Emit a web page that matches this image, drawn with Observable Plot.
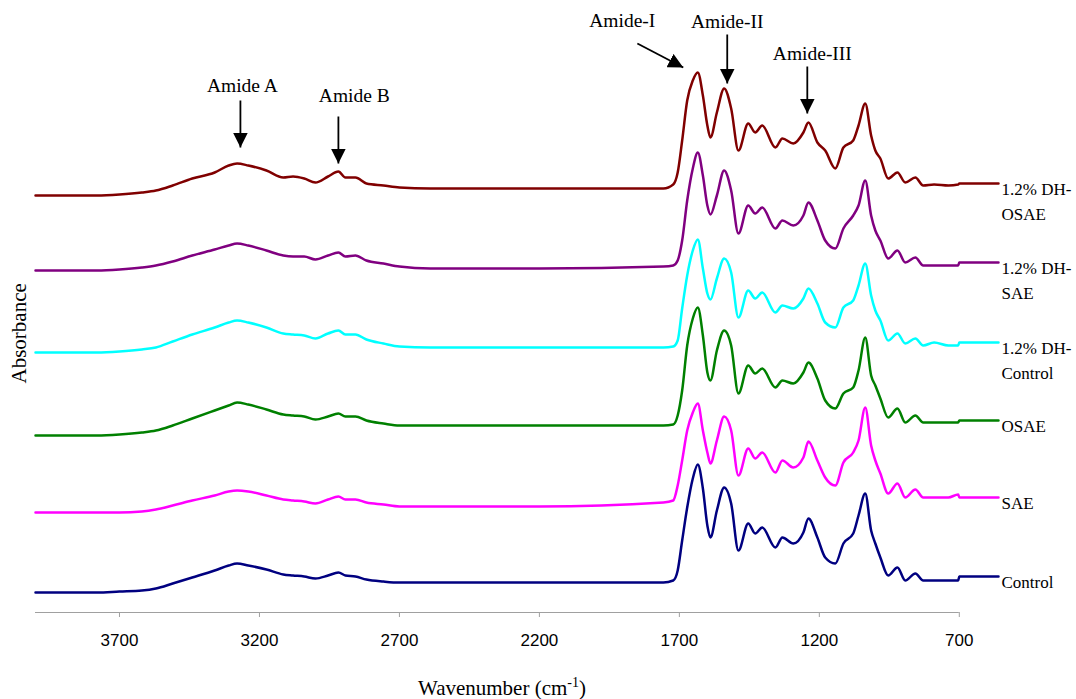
<!DOCTYPE html>
<html><head><meta charset="utf-8">
<script src="https://cdn.jsdelivr.net/npm/d3@7"></script>
<script src="https://cdn.jsdelivr.net/npm/@observablehq/plot@0.6"></script>
<style>html,body{margin:0;padding:0;background:#fff}#chart svg{display:block}</style>
</head><body><div id="chart"></div>
<script>
// Wavenumber sample points (cm-1)
const wavenumber = [4000, 3780, 3700, 3620, 3570, 3510, 3440, 3360, 3310, 3280, 3240, 3175, 3115, 3080, 3040, 3000, 2955, 2918, 2893, 2857, 2818, 2757, 2700, 2590, 2200,
  1757, 1722, 1706, 1690, 1672, 1652, 1634, 1616, 1600, 1589, 1566, 1540, 1515, 1489, 1454, 1429, 1404, 1357, 1332, 1293, 1257, 1239, 1207, 1179, 1143, 1114, 1079, 1060, 1036, 1015, 1000, 982, 954, 921, 893, 857, 829, 790, 739, 704, 700, 560];

// Offset absorbance (a.u.) for each spectrum
const absDHOSAE = [4.17, 4.17, 4.18, 4.20, 4.22, 4.27, 4.34, 4.40, 4.47, 4.49, 4.47, 4.42, 4.35, 4.36, 4.34, 4.30, 4.36, 4.41, 4.35, 4.35, 4.29, 4.27, 4.25, 4.24, 4.24,
  4.24, 4.28, 4.40, 4.72, 5.12, 5.32, 5.40, 5.17, 4.87, 4.75, 5.00, 5.24, 5.04, 4.62, 4.89, 4.80, 4.87, 4.65, 4.74, 4.69, 4.80, 4.90, 4.70, 4.62, 4.44, 4.65, 4.72, 4.87, 5.09, 4.77, 4.62, 4.54, 4.34, 4.40, 4.30, 4.35, 4.27, 4.28, 4.27, 4.28, 4.29, 4.29];
const absDHSAE = [3.42, 3.42, 3.43, 3.45, 3.47, 3.51, 3.57, 3.63, 3.67, 3.69, 3.67, 3.62, 3.57, 3.56, 3.56, 3.53, 3.57, 3.60, 3.56, 3.57, 3.52, 3.49, 3.46, 3.44, 3.44,
  3.46, 3.47, 3.52, 3.72, 4.12, 4.44, 4.60, 4.37, 4.07, 3.98, 4.17, 4.42, 4.22, 3.79, 4.07, 3.99, 4.05, 3.84, 3.92, 3.87, 3.97, 4.10, 3.92, 3.72, 3.64, 3.84, 3.97, 4.07, 4.32, 3.97, 3.82, 3.72, 3.54, 3.62, 3.50, 3.55, 3.47, 3.47, 3.47, 3.47, 3.50, 3.50];
const absDHControl = [2.60, 2.60, 2.61, 2.63, 2.65, 2.71, 2.78, 2.85, 2.90, 2.92, 2.90, 2.85, 2.79, 2.78, 2.77, 2.74, 2.79, 2.82, 2.78, 2.78, 2.73, 2.69, 2.66, 2.65, 2.65,
  2.65, 2.66, 2.72, 3.04, 3.37, 3.62, 3.73, 3.44, 3.19, 3.13, 3.34, 3.54, 3.40, 2.95, 3.22, 3.14, 3.20, 3.00, 3.07, 3.04, 3.14, 3.24, 3.09, 2.90, 2.85, 3.05, 3.12, 3.27, 3.49, 3.17, 3.02, 2.92, 2.72, 2.79, 2.69, 2.74, 2.67, 2.70, 2.67, 2.67, 2.70, 2.70];
const absOSAE = [1.77, 1.77, 1.78, 1.80, 1.82, 1.87, 1.94, 2.02, 2.07, 2.10, 2.08, 2.03, 1.98, 1.97, 1.96, 1.93, 1.96, 1.99, 1.96, 1.96, 1.92, 1.89, 1.87, 1.87, 1.87,
  1.87, 1.88, 1.97, 2.22, 2.67, 2.94, 3.05, 2.77, 2.40, 2.32, 2.62, 2.82, 2.67, 2.19, 2.47, 2.39, 2.44, 2.25, 2.32, 2.29, 2.40, 2.50, 2.34, 2.12, 2.04, 2.19, 2.25, 2.42, 2.75, 2.37, 2.27, 2.14, 1.95, 2.04, 1.90, 1.97, 1.90, 1.90, 1.90, 1.90, 1.92, 1.92];
const absSAE = [1.00, 1.00, 1.00, 1.01, 1.03, 1.07, 1.12, 1.17, 1.21, 1.22, 1.21, 1.17, 1.13, 1.12, 1.11, 1.09, 1.13, 1.16, 1.13, 1.13, 1.10, 1.08, 1.06, 1.06, 1.06,
  1.10, 1.12, 1.27, 1.52, 1.82, 2.00, 2.09, 1.82, 1.60, 1.49, 1.72, 1.96, 1.82, 1.37, 1.64, 1.54, 1.60, 1.40, 1.52, 1.45, 1.55, 1.71, 1.52, 1.35, 1.27, 1.50, 1.60, 1.72, 2.05, 1.67, 1.52, 1.39, 1.19, 1.29, 1.15, 1.23, 1.15, 1.15, 1.15, 1.18, 1.15, 1.15];
const absControl = [0.20, 0.20, 0.21, 0.22, 0.24, 0.29, 0.35, 0.42, 0.47, 0.49, 0.47, 0.43, 0.38, 0.37, 0.36, 0.34, 0.37, 0.40, 0.37, 0.36, 0.33, 0.31, 0.30, 0.30, 0.30,
  0.30, 0.32, 0.42, 0.72, 1.05, 1.34, 1.48, 1.24, 0.87, 0.75, 1.02, 1.25, 1.09, 0.62, 0.89, 0.79, 0.85, 0.65, 0.75, 0.69, 0.80, 0.94, 0.75, 0.55, 0.49, 0.69, 0.79, 0.97, 1.19, 0.82, 0.69, 0.55, 0.37, 0.45, 0.32, 0.39, 0.32, 0.32, 0.32, 0.32, 0.36, 0.36];

const seriesNames = ["1.2% DH-OSAE", "1.2% DH-SAE", "1.2% DH-Control", "OSAE", "SAE", "Control"];
const seriesLabels = ["1.2% DH-\nOSAE", "1.2% DH-\nSAE", "1.2% DH-\nControl", "OSAE", "SAE", "Control"];
const seriesColors = ["#800000", "#800080", "#00ffff", "#008000", "#ff00ff", "#000080"];
const seriesValues = [absDHOSAE, absDHSAE, absDHControl, absOSAE, absSAE, absControl];

// Band annotations
const bandNames = ["Amide A", "Amide B", "Amide-I", "Amide-II", "Amide-III"];
const bandLabelWn = [3261, 2861, 1904, 1529, 1225];
const bandLabelAbs = [5.27, 5.17, 5.92, 5.91, 5.59];
const arrowFromWn = [3268, 2918, 1850, 1529, 1243];
const arrowFromAbs = [5.12, 4.96, 5.69, 5.78, 5.46];
const arrowToWn = [3268, 2918, 1686, 1529, 1243];
const arrowToAbs = [4.65, 4.49, 5.45, 5.29, 4.99];

const xTicks = [3700, 3200, 2700, 2200, 1700, 1200, 700];
const axisEnd = [4000, 700];

const rows = [];
seriesNames.forEach((name, i) => wavenumber.forEach((w, j) => rows.push({series: name, wn: w, abs: seriesValues[i][j]})));
const endLabels = seriesNames.map((name, i) => ({series: name, label: seriesLabels[i], wn: wavenumber[wavenumber.length - 1], abs: seriesValues[i][seriesValues[i].length - 1]}));
const bands = bandNames.map((b, i) => ({name: b, lx: bandLabelWn[i], ly: bandLabelAbs[i], x1: arrowFromWn[i], y1: arrowFromAbs[i], x2: arrowToWn[i], y2: arrowToAbs[i]}));

function headMarker(color) {
  const m = d3.create("svg:marker")
    .attr("viewBox", "0 -7.5 15 15")
    .attr("refX", 15).attr("refY", 0)
    .attr("markerWidth", 15).attr("markerHeight", 15)
    .attr("markerUnits", "userSpaceOnUse")
    .attr("orient", "auto");
  m.append("path").attr("d", "M0,-7.5L15,0L0,7.5Z").attr("fill", color).attr("stroke", "none");
  return m.node();
}

const serif = "'Liberation Serif', 'Times New Roman', serif";
const chart = Plot.plot({
  width: 1076, height: 699,
  marginLeft: 35, marginRight: 78, marginTop: 12, marginBottom: 87,
  style: {background: "white", fontFamily: serif, color: "black"},
  x: {domain: [4000, 560], axis: null},
  y: {domain: [0, 6], axis: null},
  color: {domain: seriesNames, range: seriesColors},
  marks: [
    Plot.ruleY([0], {x1: axisEnd[0], x2: axisEnd[1], stroke: "#a0a0a0", strokeWidth: 1.2}),
    Plot.axisX(xTicks, {tickSize: 5, tickPadding: 16, tickFormat: d3.format("d"), stroke: "#a0a0a0", fontSize: 17, fontFamily: "'Liberation Sans', Arial, sans-serif", label: null}),
    Plot.line(rows, {x: "wn", y: "abs", z: "series", stroke: "series", strokeWidth: 2.5, strokeLinejoin: "round", curve: "monotone-x"}),
    Plot.text(endLabels, {x: "wn", y: "abs", text: "label", textAnchor: "start", lineAnchor: "top", dx: 3, dy: -6, fontSize: 17, lineHeight: 1.45, fill: "black"}),
    Plot.link(bands, {x1: "x1", y1: "y1", x2: "x2", y2: "y2", stroke: "black", strokeWidth: 1.8, markerEnd: headMarker}),
    Plot.text(bands, {x: "lx", y: "ly", text: "name", fontSize: 19.5, fill: "black", lineAnchor: "middle"}),
    Plot.text(["Wavenumber (cm-1)"], {frameAnchor: "bottom", dx: -15, dy: 76, lineAnchor: "middle", fontSize: 21, fill: "black"}),
    Plot.text(["Absorbance"], {frameAnchor: "left", dx: -16, dy: 71, rotate: -90, lineAnchor: "middle", fontSize: 21, fill: "black"})
  ]
});
document.getElementById("chart").appendChild(chart);
d3.select(chart).selectAll("text").each(function() {
  if (this.textContent === "Wavenumber (cm-1)") {
    this.innerHTML = 'Wavenumber (cm<tspan dy="-8" font-size="14">-1</tspan><tspan dy="8">)</tspan>';
  }
});
</script></body></html>
